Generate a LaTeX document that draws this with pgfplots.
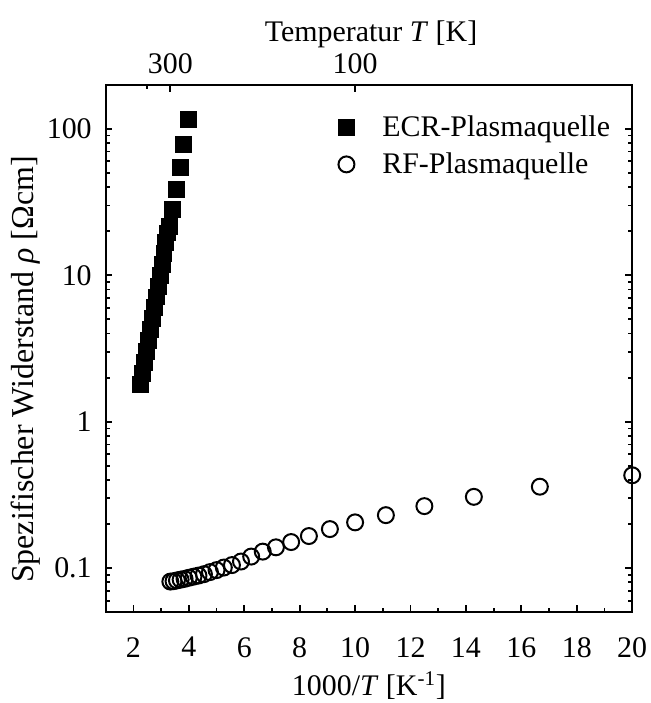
\documentclass[border=0pt]{standalone}
\usepackage{pgfplots}
\pgfplotsset{compat=1.18}
\usepackage{fontspec}
\setmainfont{Liberation Serif}
\newcommand{\tf}{\fontsize{15}{17}\selectfont}
\begin{document}
\begin{tikzpicture}
\path[use as bounding box] (-53pt,-45.5pt) rectangle (273pt,307pt);
\pgfplotsset{
  base/.style={
    scale only axis, width=264pt, height=264.5pt,
    at={(0,0)}, anchor=south west,
    xmin=1, xmax=20,
    axis line style={line width=1pt},
    xtick style={draw=black, line width=0.9pt},
    ytick style={draw=black, line width=0.9pt},
    major tick length=3.4pt, minor tick length=2.1pt,
    /pgf/number format/assume math mode=true,
    tick label style={font=\tf},
    label style={font=\tf},
  }
}
\begin{axis}[base,
  ymode=log, ymin=0.05, ymax=200,
  xtick={2,4,...,20}, minor xtick={3,5,...,19},
  xtick pos=left, ytick pos=both,
  ytick={0.1,1,10,100}, yticklabels={0.1,1,10,100},
  minor ytick={0.06,0.07,0.08,0.09,0.2,0.3,0.4,0.5,0.6,0.7,0.8,0.9,2,3,4,5,6,7,8,9,20,30,40,50,60,70,80,90,200},
  xticklabel style={yshift=-9pt},
  yticklabel style={xshift=-3.5pt},
  xlabel={1000/\textit{T} [K\textsuperscript{-1}]},
  ylabel={Spezifischer Widerstand \textit{ρ} [Ωcm]},
  xlabel style={at={(axis description cs:0.5,-0.139)}, anchor=center},
  ylabel style={at={(axis description cs:-0.152,0.46)}, anchor=center, font=\fontsize{16}{18}\selectfont},
  clip=false,
  legend style={draw=none, fill=none, font=\tf, at={(axis description cs:0.43,0.957)}, anchor=north west, row sep=2.5pt,
    /tikz/every odd column/.append style={column sep=12pt}},
  legend cell align=left,
]
\addplot[only marks, mark=square*, mark size=4pt, black] coordinates {
(2.26,1.80) (2.33,2.14) (2.40,2.54) (2.47,3.01) (2.54,3.58) (2.61,4.25)
(2.68,5.05) (2.75,5.99) (2.82,7.12) (2.89,8.45) (2.96,10.04) (3.03,11.92)
(3.10,14.15) (3.17,16.81) (3.23,19.47) (3.29,21.7) (3.40,28.3) (3.55,38.7)
(3.69,54.6) (3.80,78.1) (3.98,115.9)
};
\addlegendentry{ECR-Plasmaquelle}
\addplot[only marks, mark=o, mark size=4pt, line width=1pt, black] coordinates {
(3.333,0.081) (3.448,0.0815) (3.571,0.0825) (3.704,0.0835) (3.846,0.0845)
(4.0,0.086) (4.167,0.0875) (4.348,0.089) (4.545,0.091) (4.762,0.094)
(5.0,0.097) (5.263,0.101) (5.556,0.105) (5.882,0.111) (6.25,0.120)
(6.667,0.1297) (7.143,0.1388) (7.692,0.1508) (8.333,0.1657) (9.091,0.1849)
(10,0.2055) (11.111,0.2302) (12.5,0.2653) (14.286,0.307) (16.667,0.360) (20,0.431)
};
\addlegendentry{RF-Plasmaquelle}
\end{axis}
\begin{axis}[base,
  ymin=0, ymax=1,
  axis x line*=top, axis y line=none,
  xtick={3.3333,10}, xticklabels={300,100},
  minor xtick={2.5},
  xticklabel style={yshift=2pt},
  xlabel={Temperatur \textit{T} [K]},
  xlabel style={at={(axis description cs:0.504,1.095)}, anchor=center},
]
\end{axis}
\end{tikzpicture}
\end{document}
